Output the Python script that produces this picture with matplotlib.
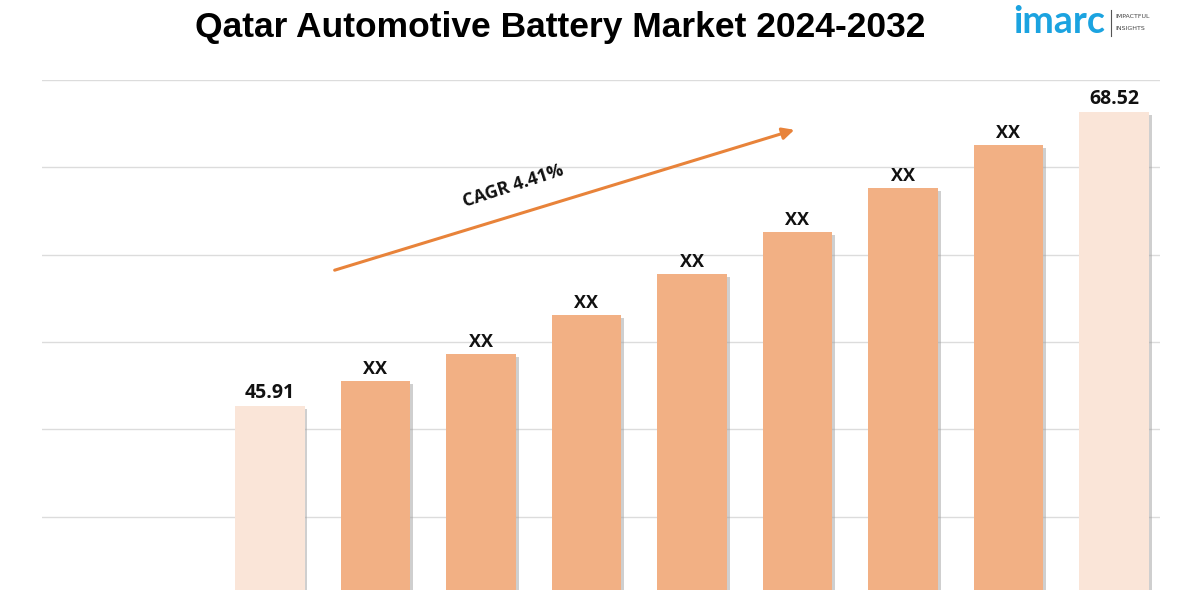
import matplotlib
matplotlib.use("Agg")
import matplotlib.pyplot as plt
import matplotlib.patheffects as pe

years = ["2024", "2025", "2026", "2027", "2028", "2029", "2030", "2031", "2032"]
values = [45.91, 47.83, 49.91, 52.91, 56.06, 59.29, 62.68, 65.99, 68.52]
labels = ["45.91", "XX", "XX", "XX", "XX", "XX", "XX", "XX", "68.52"]
title = "Qatar Automotive Battery Market 2024-2032"
cagr_text = "CAGR 4.41%"

light = "#FAE5D8"
dark = "#F2B084"
colors = [light] + [dark] * 7 + [light]

fig = plt.figure(figsize=(12, 6), dpi=100)
ax = fig.add_axes([0.035, 0.0167, 0.932, 0.85])

x = list(range(len(years)))
bars = ax.bar(x, values, width=0.66, color=colors, zorder=3)
for b in bars:
    b.set_path_effects([pe.SimplePatchShadow(offset=(2, -2), shadow_rgbFace="#a0a0a0", alpha=0.5), pe.Normal()])

ax.set_xlim(-2.16, 8.44)
ax.set_ylim(31.76, 70.99)
grid_vals = [37.39, 44.11, 50.83, 57.55, 64.27, 70.99]
for g in grid_vals:
    ax.axhline(g, color="#DCDCDC", lw=1.0, zorder=1)

for i, (v, lab) in enumerate(zip(values, labels)):
    big = lab != "XX"
    ax.text(i, v + 0.25, lab, ha="center", va="bottom",
            fontsize=14 if big else 13, fontweight="bold", family="Open Sans", color="#111111", zorder=4)

for s in ax.spines.values():
    s.set_visible(False)
ax.set_xticks([])
ax.set_yticks([])

# CAGR arrow (figure pixel coordinates)
fig.patches.append(matplotlib.patches.FancyArrowPatch(
    (332 / 1200, 1 - 271 / 600), (797 / 1200, 1 - 129 / 600),
    transform=fig.transFigure, arrowstyle="-|>,head_length=7,head_width=3.5",
    color="#E8833A", lw=2.2, mutation_scale=1))
fig.text(513 / 1200, 1 - 186 / 600, cagr_text, rotation=18, ha="center", va="center",
         fontsize=13, fontweight="bold", family="Open Sans", color="#111111")

fig.text(560 / 1200, 1 - 27 / 600, title, ha="center", va="center",
         fontsize=25.5, fontweight="bold", family="Liberation Sans", color="#000000")

# logo
fig.text(1013 / 1200, 1 - 22 / 600, "imarc", ha="left", va="center", fontsize=27,
         family="Lato", fontweight="bold", color="#1BA3E0")
fig.add_artist(matplotlib.lines.Line2D([1111 / 1200, 1111 / 1200], [1 - 10 / 600, 1 - 36 / 600],
                                       color="#555555", lw=0.8, transform=fig.transFigure))
fig.text(1115 / 1200, 1 - 17 / 600, "IMPACTFUL", ha="left", va="center", fontsize=4.5, color="#444444")
fig.text(1115 / 1200, 1 - 28 / 600, "INSIGHTS", ha="left", va="center", fontsize=4.5, color="#444444")

fig.savefig("out.png", dpi=100)
